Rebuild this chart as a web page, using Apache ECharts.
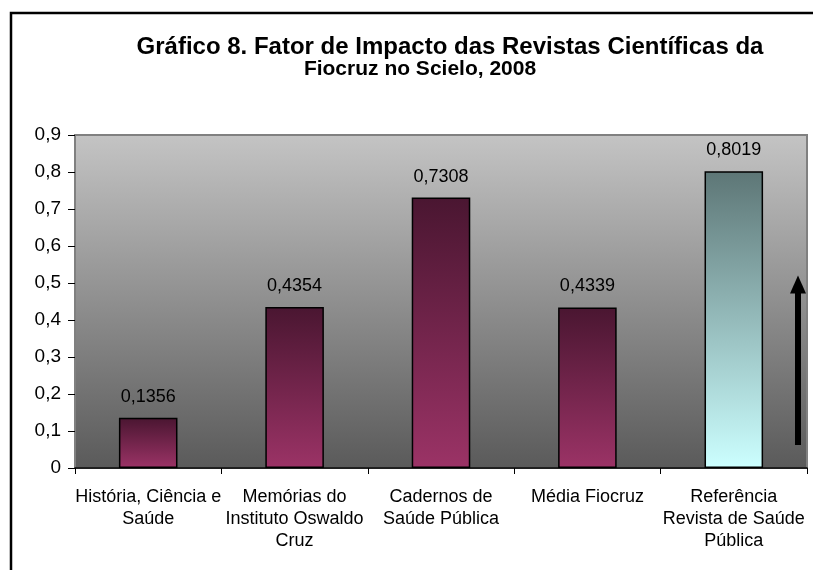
<!DOCTYPE html>
<html>
<head>
<meta charset="utf-8">
<script src="https://cdn.jsdelivr.net/npm/echarts@6/dist/echarts.min.js"></script>
<style>
html,body{margin:0;padding:0;background:#fff;}
#chart{width:813px;height:570px;}
</style>
</head>
<body>
<div id="chart"></div>
<script>
var titleLine1 = 'Gráfico 8. Fator de Impacto das Revistas Científicas da';
var titleLine2 = 'Fiocruz no Scielo, 2008';
var categories = ['História, Ciência e\nSaúde', 'Memórias do\nInstituto Oswaldo\nCruz', 'Cadernos de\nSaúde Pública', 'Média Fiocruz', 'Referência\nRevista de Saúde\nPública'];
var values = [0.1356, 0.4354, 0.7308, 0.4339, 0.8019];
var referenceIndex = 4;
var arrowFrom = 0.062, arrowTo = 0.52;

var FONT = '"Liberation Sans", Arial, sans-serif';
function grad(top, bottom){
  return new echarts.graphic.LinearGradient(0,0,0,1,[{offset:0,color:top},{offset:1,color:bottom}]);
}
function fmt(v){ return v === 0 ? '0' : v.toFixed(1).replace('.', ','); }

var chart = echarts.init(document.getElementById('chart'), null, {renderer:'canvas'});
var option = {
  animation:false,
  backgroundColor:'#fff',
  graphic:[
    {type:'rect', shape:{x:11, y:13, width:840, height:600}, style:{fill:'none', stroke:'#000', lineWidth:2.5}, z:100}
  ],
  title:[
    {text:titleLine1, left:445, top:30, textAlign:'center',
     textStyle:{fontFamily:FONT, fontWeight:'bold', fontSize:24, color:'#000'}},
    {text:titleLine2, left:415, top:54, textAlign:'center',
     textStyle:{fontFamily:FONT, fontWeight:'bold', fontSize:21, color:'#000'}}
  ],
  grid:{left:75, right:6, top:135, bottom:102, show:true, borderColor:'#808080', borderWidth:2,
        backgroundColor: grad('#c4c4c4', '#5a5a5a')},
  xAxis:{type:'category', data:categories,
    axisLine:{lineStyle:{color:'#000', width:1.5}},
    axisTick:{show:true, length:6, lineStyle:{color:'#000'}},
    axisLabel:{fontFamily:FONT, fontSize:18, color:'#000', lineHeight:22, margin:18, interval:0}
  },
  yAxis:{type:'value', min:0, max:0.9, interval:0.1,
    axisLine:{show:true, lineStyle:{color:'#808080', width:2}},
    axisTick:{show:true, length:7, lineStyle:{color:'#000'}},
    splitLine:{show:false},
    axisLabel:{fontFamily:FONT, fontSize:19, color:'#000', margin:14, formatter:fmt}
  },
  series:[{
    type:'bar', barCategoryGap:'60%',
    data: values.map(function(v,i){
      return {value:v, itemStyle:{color: i===referenceIndex ? grad('#5d7676','#ccffff') : grad('#4a1631','#9b3366')}};
    }),
    itemStyle:{borderColor:'#000', borderWidth:1.5},
    label:{show:true, position:'top', distance:12, fontFamily:FONT, fontSize:18, color:'#000',
      formatter:function(p){ return p.value.toFixed(4).replace('.', ','); }}
  }]
};
chart.setOption(option);

var ax = 798;
var y1 = chart.convertToPixel({yAxisIndex:0}, arrowFrom);
var y2 = chart.convertToPixel({yAxisIndex:0}, arrowTo);
option.graphic.push(
  {type:'line', shape:{x1:ax, y1:y1, x2:ax, y2:y2+16}, style:{stroke:'#000', lineWidth:6}, z:50},
  {type:'polygon', shape:{points:[[ax, y2],[ax-8, y2+18],[ax+8, y2+18]]}, style:{fill:'#000'}, z:51}
);
chart.setOption({graphic:option.graphic});
</script>
</body>
</html>
